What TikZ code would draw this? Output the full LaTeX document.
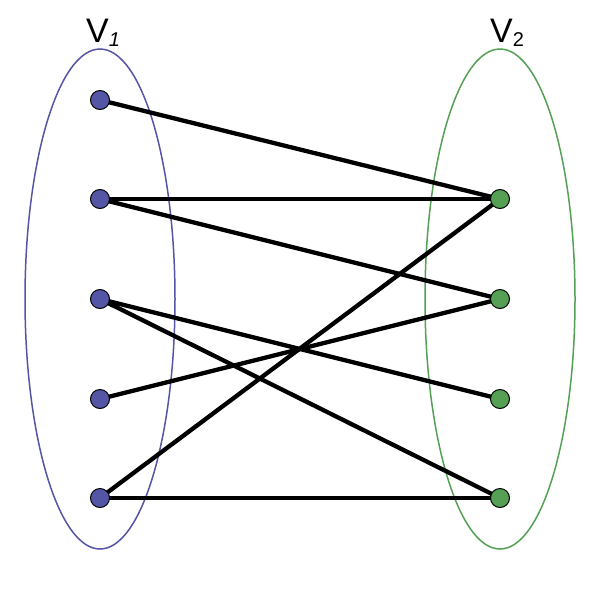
\documentclass[tikz,border=0pt]{standalone}
\usepackage{fontspec}
\setmainfont{Liberation Sans}
\usetikzlibrary{backgrounds}
\definecolor{vblue}{HTML}{5555A5}
\definecolor{vgreen}{HTML}{55A055}
\begin{document}
\begin{tikzpicture}[x=1pt,y=-1pt,
  lv/.style={circle,draw=black,line width=1pt,fill=vblue,minimum size=19pt,inner sep=0pt},
  rv/.style={circle,draw=black,line width=1pt,fill=vgreen,minimum size=19pt,inner sep=0pt},
  edge/.style={line width=4.3pt},
  lbl/.style={font=\fontsize{34}{36}\selectfont}]
\useasboundingbox (0,0) rectangle (600,600);
\node[lbl] (V1) at (103,33) {V\raisebox{-4pt}{\fontsize{20}{20}\selectfont\itshape 1}};
\node[lbl] (V2) at (507,33) {V\raisebox{-4pt}{\fontsize{20}{20}\selectfont 2}};
\node[lv] (a1) at (100,100) {};
\node[lv] (a2) at (100,199) {};
\node[lv] (a3) at (100,299) {};
\node[lv] (a4) at (100,399) {};
\node[lv] (a5) at (100,498) {};
\node[rv] (b1) at (500,199) {};
\node[rv] (b2) at (500,299) {};
\node[rv] (b3) at (500,399) {};
\node[rv] (b4) at (500,498) {};
\begin{scope}[on background layer]
\draw[vblue,line width=1.5pt] (100,299) ellipse [x radius=75, y radius=250];
\draw[vgreen,line width=1.5pt] (500,299) ellipse [x radius=75, y radius=250];
\draw[edge] (a1.center) -- (b1.center);
\draw[edge] (a2.center) -- (b1.center);
\draw[edge] (a2.center) -- (b2.center);
\draw[edge] (a3.center) -- (b3.center);
\draw[edge] (a3.center) -- (b4.center);
\draw[edge] (a4.center) -- (b2.center);
\draw[edge] (a5.center) -- (b1.center);
\draw[edge] (a5.center) -- (b4.center);
\end{scope}
\end{tikzpicture}
\end{document}
